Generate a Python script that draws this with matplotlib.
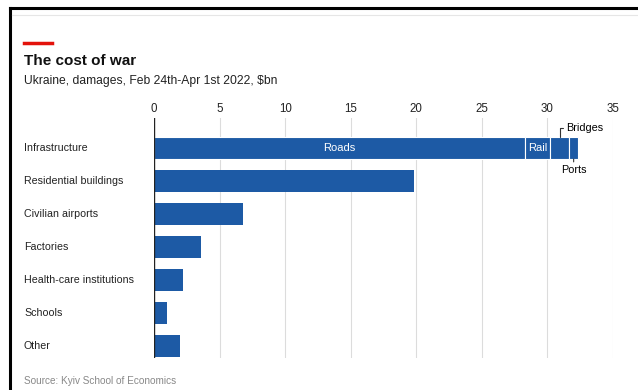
import matplotlib
matplotlib.use('Agg')
import matplotlib.pyplot as plt
from matplotlib.lines import Line2D
import matplotlib.transforms as mtransforms
import numpy as np

plt.rcParams['font.family'] = ['Liberation Sans', 'DejaVu Sans']

categories = ['Infrastructure', 'Residential buildings', 'Civilian airports', 'Factories',
              'Health-care institutions', 'Schools', 'Other']
values = [None, 19.8, 6.8, 3.6, 2.2, 1.0, 2.0]

# infrastructure is split into segments
infra_parts = ['Roads', 'Rail', 'Bridges', 'Ports']
infra_values = [28.3, 1.9, 1.45, 0.7]

ticks = [0, 5, 10, 15, 20, 25, 30, 35]

BLUE = '#1d5aa5'

fig = plt.figure(figsize=(6.38, 3.90), dpi=100)
W, H = 638, 390

def fx(px):
    return px / W

def fy(py):
    return 1 - py / H

ax = fig.add_axes([fx(154), fy(358), fx(613) - fx(154), fy(118) - fy(358)])

y = np.arange(len(categories))
bh = 0.67

# infrastructure stacked bar
left = 0
starts = []
for name, v in zip(infra_parts, infra_values):
    ax.barh(0, v, left=left, height=bh, color=BLUE, edgecolor='white', linewidth=0.8, zorder=3)
    starts.append(left)
    left += v

for i in range(1, len(values)):
    ax.barh(y[i], values[i], height=bh, color=BLUE, zorder=3)

# segment labels
ax.text(starts[0] + infra_values[0] / 2, 0, 'Roads', color='white', fontsize=8,
        ha='center', va='center', zorder=4)
ax.text(starts[1] + infra_values[1] / 2, 0, 'Rail', color='white', fontsize=8,
        ha='center', va='center', zorder=4)

bx = starts[2] + infra_values[2] / 2
ax.annotate('Bridges', xy=(bx, -bh / 2), xytext=(bx + 0.5, -bh / 2 - 0.28),
            fontsize=7.8, ha='left', va='center', zorder=4,
            arrowprops=dict(arrowstyle='-', color='#333333', lw=0.8,
                            connectionstyle='angle,angleA=0,angleB=90,rad=0',
                            shrinkA=0, shrinkB=0))
px_ = starts[3] + infra_values[3] / 2
ax.annotate('Ports', xy=(px_, bh / 2), xytext=(px_, bh / 2 + 0.17),
            fontsize=7.8, ha='center', va='top', zorder=4,
            arrowprops=dict(arrowstyle='-', color='#333333', lw=0.8,
                            shrinkA=0, shrinkB=0))

ax.set_xlim(0, 35)
ax.set_ylim(6.364, -0.909)
ax.set_xticks(ticks)
ax.xaxis.tick_top()
ax.tick_params(axis='x', length=0, labelsize=8.3, pad=2, colors='#222222')
ax.set_yticks([])
for s in ax.spines.values():
    s.set_visible(False)
for t in ticks[1:]:
    ax.axvline(t, color='#dcdcdc', lw=0.8, zorder=1)
ax.axvline(0, color='#222222', lw=1.0, zorder=4)

trans = mtransforms.blended_transform_factory(fig.transFigure, ax.transData)
for i, c in enumerate(categories):
    ax.text(fx(24), y[i], c, transform=trans,
            fontsize=7.7, va='center', ha='left', color='#222222')

# header and frame
fig.add_artist(Line2D([fx(24), fx(52)], [fy(43), fy(43)], color='#e3120b', lw=2.5))
fig.text(fx(24), fy(61), 'The cost of war', fontsize=11, fontweight='bold', va='center', color='#111111')
fig.text(fx(24), fy(81), 'Ukraine, damages, Feb 24th-Apr 1st 2022, $bn', fontsize=8.75, va='center', color='#222222')
fig.text(fx(24), fy(381), 'Source: Kyiv School of Economics', fontsize=7.2, va='center', color='#888888')

fig.add_artist(Line2D([fx(10), fx(638)], [fy(8), fy(8)], color='black', lw=2.2))
fig.add_artist(Line2D([fx(10), fx(10)], [fy(8), fy(390)], color='black', lw=2.2))
fig.add_artist(Line2D([fx(12), fx(638)], [fy(15), fy(15)], color='#e6e6e6', lw=0.8))

fig.savefig('out.png', dpi=100)
